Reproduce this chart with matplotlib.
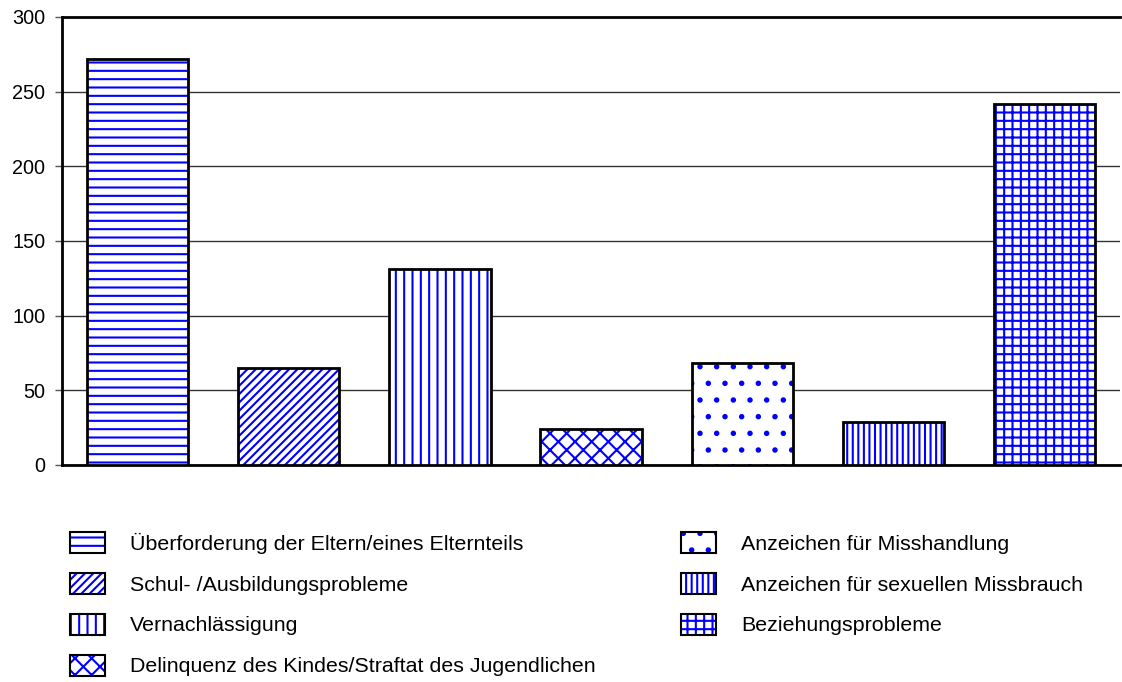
import matplotlib.pyplot as plt
from matplotlib.patches import Patch

plt.rcParams['font.family'] = ['Liberation Sans', 'DejaVu Sans']
plt.rcParams['hatch.linewidth'] = 1.5

categories = [
    "Überforderung der Eltern/eines Elternteils",
    "Schul- /Ausbildungsprobleme",
    "Vernachlässigung",
    "Delinquenz des Kindes/Straftat des Jugendlichen",
    "Anzeichen für Misshandlung",
    "Anzeichen für sexuellen Missbrauch",
    "Beziehungsprobleme",
]
values = [272, 65, 131, 24, 68, 29, 242]
hatches = ['--', '////', '||', 'xx', '.', '|||', '++']
yticks = [0, 50, 100, 150, 200, 250, 300]

BLUE = '#0000ff'

fig = plt.figure(figsize=(11.22, 6.82), dpi=100)
ax = fig.add_axes([0.0553, 0.3182, 0.943, 0.6569])

x = list(range(len(values)))
# hatch layer (blue) then black outline on top
ax.bar(x, values, width=0.67, color='white', edgecolor=BLUE, hatch=hatches, linewidth=0, zorder=3)
ax.bar(x, values, width=0.67, fill=False, edgecolor='black', linewidth=2, zorder=4)

ax.set_xlim(-0.5, len(values) - 0.5)
ax.set_ylim(0, 300)
ax.set_yticks(yticks)
ax.set_xticks([])
ax.tick_params(axis='y', labelsize=14.3, length=5, width=1, color='#555555',
               direction='out', pad=7)
ax.yaxis.grid(True, color='#333333', linewidth=1)
ax.set_axisbelow(True)
ax.spines['right'].set_visible(False)
for s in ['left', 'bottom', 'top']:
    ax.spines[s].set_linewidth(2)

handles = []
for h in hatches:
    handles.append((Patch(facecolor='white', edgecolor=BLUE, hatch=h, linewidth=0),
                    Patch(fill=False, edgecolor='black', linewidth=1.5)))

fig.legend(handles, categories, ncol=2, loc='upper left', bbox_to_anchor=(0.0624, 0.220),
           frameon=False, fontsize=15.4, handlelength=1.64, handleheight=1.12,
           handletextpad=1.17, labelspacing=0.90, columnspacing=3.97,
           borderpad=0, borderaxespad=0)

fig.savefig('out.png', dpi=100)
